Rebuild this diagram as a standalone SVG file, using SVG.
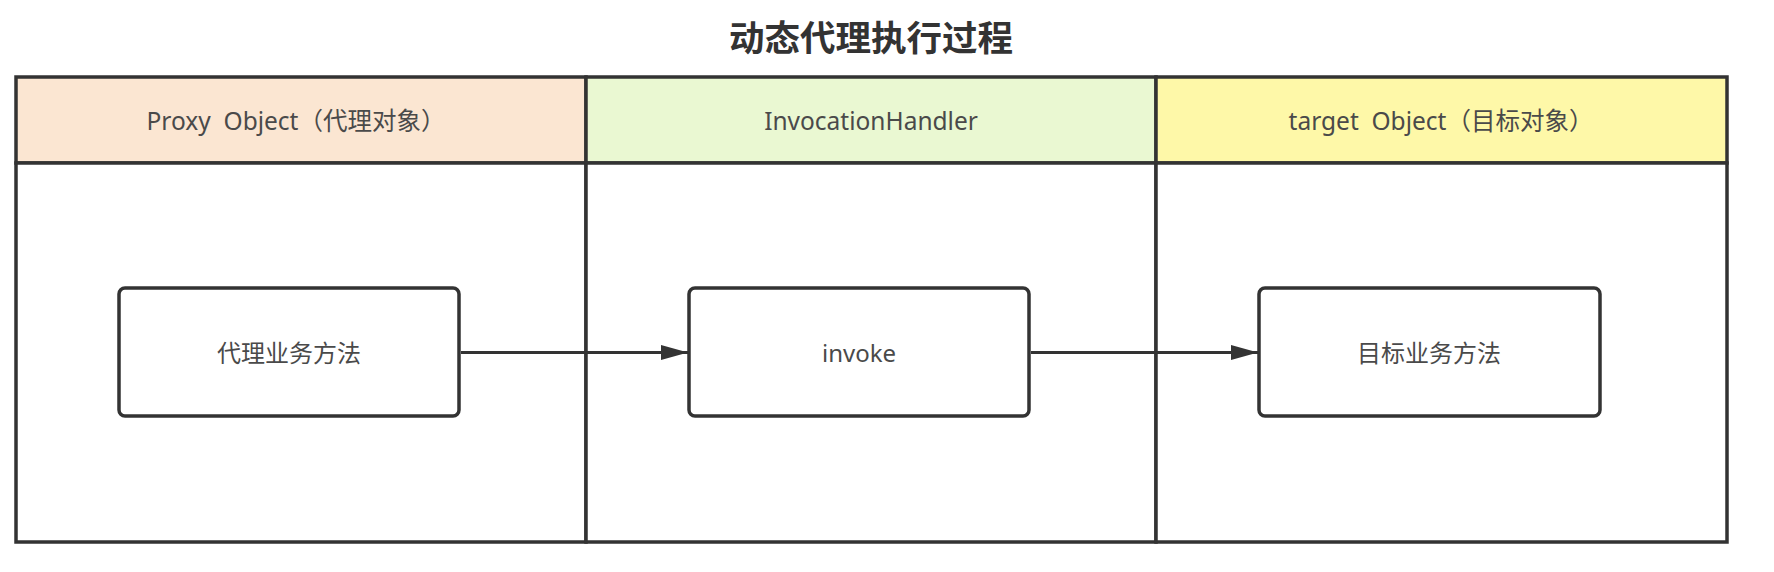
<svg xmlns="http://www.w3.org/2000/svg" width="1774" height="572" viewBox="0 0 1774 572">
<style>
.lane{stroke:#333;stroke-width:3.5}
.hdr{font-family:"Noto Sans","Noto Sans CJK SC",sans-serif;font-size:24.5px;fill:#4a4a4a;text-anchor:middle;dominant-baseline:central;white-space:pre}
.box{fill:#fff;stroke:#333;stroke-width:3.5}
.lbl{font-family:"Noto Sans","Noto Sans CJK SC",sans-serif;font-size:24px;fill:#4a4a4a;text-anchor:middle;dominant-baseline:central}
.title{font-family:"Noto Sans CJK SC",sans-serif;font-size:35.5px;font-weight:bold;fill:#333;text-anchor:middle;dominant-baseline:central}
.edge{stroke:#333;stroke-width:3;fill:none}
</style>
<defs>
<marker id="arr" markerWidth="9" markerHeight="5" refX="9" refY="2.5" orient="auto" markerUnits="strokeWidth">
<path d="M0,0 L9,2.5 L0,5 Z" fill="#333"/>
</marker>
</defs>
<rect width="1774" height="572" fill="#fff"/>
<text class="title" x="871" y="35">动态代理执行过程</text>
<g id="lane-proxy">
<rect x="16" y="77" width="570" height="86" fill="#fbe6d2" class="lane"/>
<rect x="16" y="163" width="570" height="379" fill="#fff" class="lane"/>
<text class="hdr" x="296" y="120" xml:space="preserve">Proxy  Object（代理对象）</text>
</g>
<g id="lane-handler">
<rect x="586" y="77" width="570" height="86" fill="#eaf8d2" class="lane"/>
<rect x="586" y="163" width="570" height="379" fill="#fff" class="lane"/>
<text class="hdr" x="871" y="120">InvocationHandler</text>
</g>
<g id="lane-target">
<rect x="1156" y="77" width="571" height="86" fill="#fef8a8" class="lane"/>
<rect x="1156" y="163" width="571" height="379" fill="#fff" class="lane"/>
<text class="hdr" x="1441" y="120" xml:space="preserve">target  Object（目标对象）</text>
</g>
<g id="connectors">
<line class="edge" x1="461" y1="352.5" x2="688" y2="352.5" marker-end="url(#arr)"/>
<line class="edge" x1="1031" y1="352.5" x2="1258" y2="352.5" marker-end="url(#arr)"/>
</g>
<g id="node-proxy-method">
<rect class="box" x="119" y="288" width="340" height="128" rx="6"/>
<text class="lbl" x="289" y="352">代理业务方法</text>
</g>
<g id="node-invoke">
<rect class="box" x="689" y="288" width="340" height="128" rx="6"/>
<text class="lbl" x="859" y="352">invoke</text>
</g>
<g id="node-target-method">
<rect class="box" x="1259" y="288" width="341" height="128" rx="6"/>
<text class="lbl" x="1429" y="352">目标业务方法</text>
</g>
</svg>
